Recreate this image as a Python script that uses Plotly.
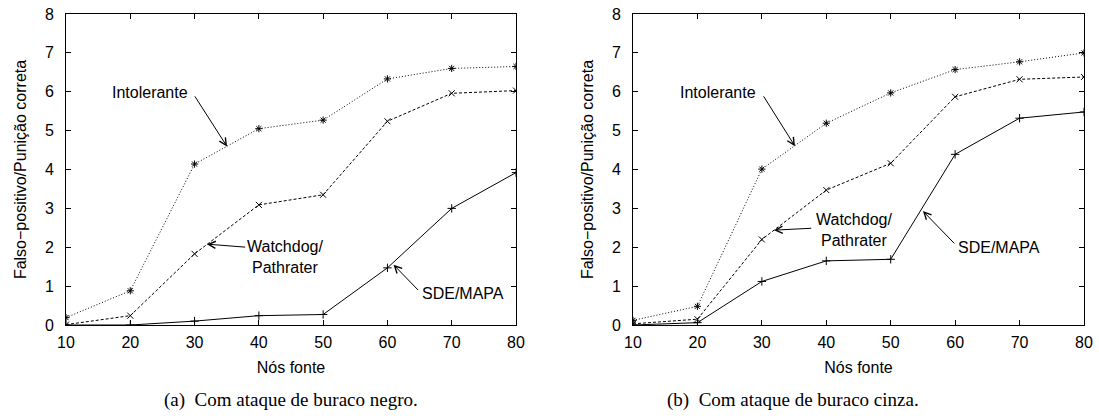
import plotly.graph_objects as go

# ---------------- data ----------------
nodes = [10, 20, 30, 40, 50, 60, 70, 80]

black_intolerante = [0.19, 0.88, 4.14, 5.05, 5.27, 6.33, 6.60, 6.65]
black_watchdog = [0.01, 0.24, 1.83, 3.09, 3.35, 5.24, 5.96, 6.03]
black_sde = [0.00, 0.00, 0.10, 0.24, 0.27, 1.47, 3.00, 3.92]

grey_intolerante = [0.12, 0.48, 4.01, 5.19, 5.97, 6.57, 6.77, 7.00]
grey_watchdog = [0.03, 0.15, 2.20, 3.47, 4.16, 5.87, 6.32, 6.38]
grey_sde = [0.00, 0.06, 1.12, 1.65, 1.69, 4.39, 5.32, 5.48]

x_ticks = [10, 20, 30, 40, 50, 60, 70, 80]
y_ticks = [0, 1, 2, 3, 4, 5, 6, 7, 8]

x_title = "Nós fonte"
y_title = "Falso−positivo/Punição correta"
captions = ["(a)  Com ataque de buraco negro.", "(b)  Com ataque de buraco cinza."]

# label text, (head x, head y), (tail x, tail y), (text x, text y)
labels_black = [
    ("Intolerante", (35.05, 4.59), (29.9, 5.92), (22.99, 5.99)),
    ("Watchdog/<br>Pathrater", (31.93, 2.08), (38.1, 2.0), (44.07, 1.76)),
    ("SDE/MAPA", (60.95, 1.55), (65.0, 0.86), (71.73, 0.80)),
]
labels_grey = [
    ("Intolerante", (35.14, 4.60), (30.13, 5.92), (23.19, 5.99)),
    ("Watchdog/<br>Pathrater", (31.88, 2.44), (37.9, 2.49), (44.3, 2.45)),
    ("SDE/MAPA", (55.0, 2.93), (60.1, 2.06), (66.76, 2.00)),
]

# ---------------- styles / layout ----------------
FONT = "Liberation Sans, Arial, Helvetica, sans-serif"
SERIF = "Liberation Serif, Times New Roman, serif"
styles = [
    ("Intolerante", "1px,2px", "asterisk-open"),
    ("Watchdog/Pathrater", "3px,2px", "x-thin-open"),
    ("SDE/MAPA", "solid", "cross-thin-open"),
]

W, H = 1099, 420


def px_x(p):
    return p / W


def px_y(p):
    return (H - p) / H


fig = go.Figure()

panels = [
    ("x", "y", [black_intolerante, black_watchdog, black_sde], labels_black),
    ("x2", "y2", [grey_intolerante, grey_watchdog, grey_sde], labels_grey),
]

for xa, ya, series, labels in panels:
    for (name, dash, sym), vals in zip(styles, series):
        fig.add_trace(go.Scatter(
            x=nodes, y=vals, xaxis=xa, yaxis=ya, name=name,
            mode="lines+markers",
            line=dict(color="black", width=1, dash=dash),
            marker=dict(symbol=sym, size=6, color="black",
                        line=dict(color="black", width=1)),
            showlegend=False,
        ))
    for text, head, tail, tpos in labels:
        fig.add_annotation(
            x=head[0], y=head[1], ax=tail[0], ay=tail[1],
            xref=xa, yref=ya, axref=xa, ayref=ya,
            text="", showarrow=True, arrowhead=5, arrowsize=1.4,
            arrowwidth=1, arrowcolor="black", standoff=0, startstandoff=0,
        )
        fig.add_annotation(
            x=tpos[0], y=tpos[1], xref=xa, yref=ya, text=text,
            showarrow=False, font=dict(family=FONT, size=16, color="black"),
            xanchor="center", yanchor="middle", align="center",
        )

axis_common = dict(
    showline=True, linecolor="black", linewidth=1, mirror="allticks",
    ticks="inside", ticklen=5, tickwidth=1, tickcolor="black",
    showgrid=False, zeroline=False, automargin=False,
    ticklabeloverflow="allow",
    tickfont=dict(family=FONT, size=16, color="black"),
)

xdomains = [(px_x(66), px_x(516)), (px_x(633), px_x(1084))]
ydomain = (px_y(325), px_y(14))

layout_axes = {}
for xd, suffix in zip(xdomains, ["", "2"]):
    layout_axes["xaxis" + suffix] = dict(
        axis_common, domain=list(xd), range=[10, 80], tickvals=x_ticks,
        anchor="y" + suffix, ticklabelstandoff=3,
        title=dict(text=x_title, font=dict(family=FONT, size=16, color="black"),
                   standoff=11),
    )
    layout_axes["yaxis" + suffix] = dict(
        axis_common, domain=list(ydomain), range=[0, 8], tickvals=y_ticks,
        anchor="x" + suffix, ticklabelstandoff=8,
        title=dict(text=y_title, font=dict(family=FONT, size=16, color="black"),
                   standoff=14),
    )

fig.update_layout(
    width=W, height=H,
    margin=dict(l=0, r=0, t=0, b=0),
    paper_bgcolor="white", plot_bgcolor="white",
    **layout_axes,
)

for cap, cx in zip(captions, [290.5, 793.0]):
    fig.add_annotation(
        x=px_x(cx), y=px_y(400), xref="paper", yref="paper", text=cap,
        showarrow=False, xanchor="center", yanchor="middle",
        font=dict(family=SERIF, size=19, color="black"),
    )

fig.write_html(
    "out.html",
    config={"displayModeBar": False},
    post_script="document.body.style.margin='0';document.body.style.overflow='hidden';",
)
